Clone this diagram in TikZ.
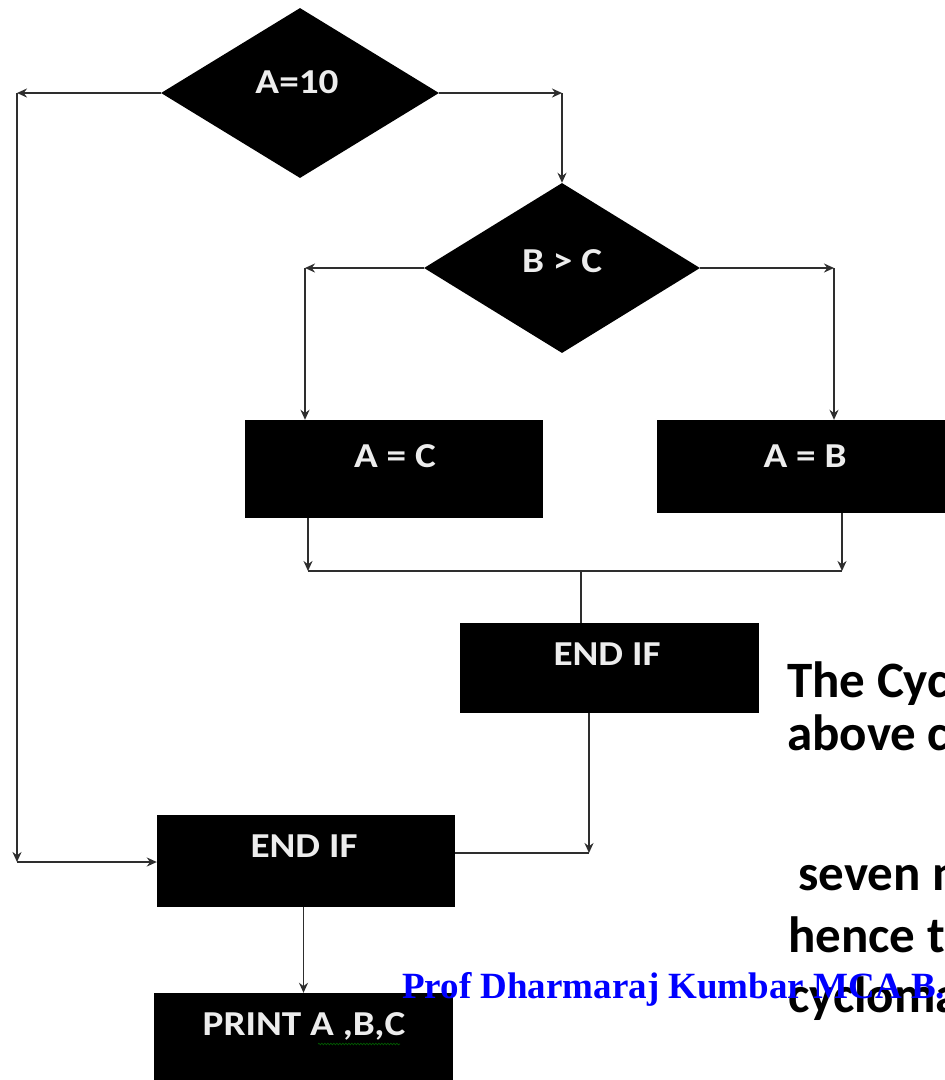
\documentclass[tikz,border=0pt]{standalone}
\usepackage{fontspec}
\setmainfont{Carlito}
\newfontfamily\boxfont{Carlito}[FakeStretch=1.12]
\newfontfamily\signfont{Liberation Serif}
\usetikzlibrary{shapes.geometric,arrows.meta,decorations.pathmorphing}

\begin{document}
\begin{tikzpicture}[x=1pt,y=-1pt,
  block/.style={rectangle, fill=black, draw=none, inner sep=0pt},
  decision/.style={diamond, fill=black, draw=none, inner sep=0pt},
  lbl/.style={text=white!93!black, font=\boxfont\fontsize{35}{40}\selectfont\bfseries, anchor=base, inner sep=0pt},
  flow/.style={draw=black!82, line width=1.6pt},
  arr/.style={flow, -{Stealth[length=10pt,width=9pt]}},
  note/.style={font=\fontsize{51}{60}\selectfont\bfseries, anchor=base west, inner sep=0pt},
  sign/.style={font=\signfont\fontsize{37}{44}\selectfont\bfseries, text={rgb,255:red,0;green,0;blue,255}, anchor=base west, inner sep=0pt},
]
\useasboundingbox (0,0) rectangle (945,1080);

% decisions and process blocks
\node[decision, minimum width=278pt, minimum height=170pt] (d1) at (300,93) {};
\node[decision, minimum width=276pt, minimum height=170pt] (d2) at (562,268) {};
\node[block, minimum width=298pt, minimum height=98pt] (ac) at (394,469) {};
\node[block, minimum width=296pt, minimum height=93pt] (ab) at (805,466.5) {};
\node[block, minimum width=299pt, minimum height=90pt] (e1) at (609.5,668) {};
\node[block, minimum width=298pt, minimum height=92pt] (e2) at (306,861) {};
\node[block, minimum width=299pt, minimum height=94pt] (pr) at (303.5,1040) {};

% block texts
\node[lbl] (d1t) at (297,93) {A=10};
\node[lbl] (d2t) at (562,272) {B > C};
\node[lbl] (act) at (395,467) {A = C};
\node[lbl] (abt) at (805,467) {A = B};
\node[lbl] (e1t) at (607,665) {END IF};
\node[lbl] (e2t) at (304,857) {END IF};
\node[lbl] (prt) at (304,1035) {PRINT A ,B,C};

% bends of the connectors
\coordinate (aL) at (17,93);
\coordinate (aB) at (17,862);
\coordinate (aR) at (d2.north |- d1.east);
\coordinate (bL) at (305,268);
\coordinate (bR) at (834,268);
\coordinate (jL) at (308,571);
\coordinate (jR) at (842,571);
\coordinate (jM) at (581,571);
\coordinate (eR) at (589,853);

% connectors
\draw[arr] (d1.west) -- (aL);
\draw[arr] (aL) -- (aB);
\draw[arr] (aB) -- (e2.west |- aB);
\draw[arr] (d1.east) -- (aR);
\draw[arr] (aR) -- (d2.north);
\draw[arr] (d2.west) -- (bL);
\draw[arr] (bL) -- (bL |- ac.north);
\draw[arr] (d2.east) -- (bR);
\draw[arr] (bR) -- (bR |- ab.north);
\draw[arr] (ac.south -| jL) -- (jL);
\draw[arr] (ab.south -| jR) -- (jR);
\draw[flow] (jL) -- (jR);
\draw[flow] (jM) -- (jM |- e1.north);
\draw[arr] (e1.south -| eR) -- (eR);
\draw[flow] (eR) -- (e2.east |- eR);
\draw[arr] (e2.south -| pr.north) -- (pr.north);

% spelling squiggle under ",B,C"
\coordinate (sq1) at (318,1044);
\coordinate (sq2) at (400,1044);
\draw[green!35!black, line width=0.7pt, decorate, decoration={snake, amplitude=0.8pt, segment length=3pt}] (sq1) -- (sq2);

% side remarks
\node[note] (n1) at (787,697) {The Cyc};
\node[note] (n2) at (787,750) {above c};
\node[note] (n3) at (798,890) {seven n};
\node[note] (n4) at (788,952) {hence t};
\node[note] (n5) at (788,1012) {cycloma};
\node[sign] (sg) at (402,998) {Prof Dharmaraj Kumbar MCA B.};
\end{tikzpicture}
\end{document}
